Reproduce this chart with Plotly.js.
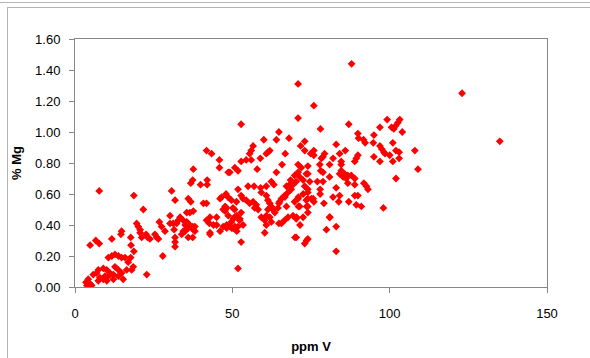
<!DOCTYPE html>
<html>
<head>
<meta charset="utf-8">
<script src="https://cdn.plot.ly/plotly-3.0.1.min.js"></script>
<style>
html,body{margin:0;padding:0;background:#fff;}
#wrap{position:relative;width:590px;height:358px;overflow:hidden;}
#chart{position:absolute;left:0;top:0;width:590px;height:358px;}
.frame{position:absolute;pointer-events:none;}
</style>
</head>
<body>
<div id="wrap">
<div id="chart"></div>
<div class="frame" style="left:0;top:0;width:592px;height:2px;border-bottom:1px solid #b4b4b4;"></div>
<div class="frame" style="left:7px;top:7px;width:600px;height:400px;border-top:1px solid #b4b4b4;border-left:1px solid #b4b4b4;"></div>
</div>
<script>
// ppm V (x) and % Mg (y)
const ppmV = [
87.9,70.9,75.9,70.9,52.8,87.0,99.2,123,135,
103.2,102.6,101.9,101.3,104,101,102,103,100,98.5,103,101,108,109,102,
78,96.9,100.6,89.9,90.1,91.7,92.2,95,94.8,96.9,97.5,98.2,95,96.9,89.9,89.4,88.9,
83,85.9,84.1,82,79.3,78.8,78.3,75.9,75.9,84.6,80.9,84.6,84.6,84.1,85.7,86.7,87.8,85.2,86.2,
77.8,78.1,78.8,74,74,74.6,77,78.8,80.9,83,86.7,88.9,88.9,91.8,92.6,93.1,77.9,77.9,
74,74,75.1,75.9,82,84.1,83.8,79.1,87,88.9,89.9,89.4,91,98,74,74,80.9,79.9,83,74,83,
64.8,60,64,68,73,71.7,73,74.9,56.6,56,55.5,61.9,61.3,60.8,58.9,66.8,52.8,54.4,56,
49.2,50.8,51.8,57.9,65.8,64,70.9,71.9,73.5,70.9,69.8,71.4,72.5,68.5,68.2,
55,56.9,59,60.8,62.4,63.2,59.2,51.8,52.8,53.4,49.7,51.3,50.2,54.4,55.5,56.6,57.6,57.1,58.2,
60.8,61.3,61.9,62.4,62.9,61.3,60.8,61.9,63.5,64.5,65,65.6,66.6,67.7,68.7,69.3,70.3,73,74,
73.5,70.9,69.8,71.4,72.5,70.3,69.3,67.7,66.6,65.6,62.4,60.8,60.3,59.2,
48.6,50.7,52.8,50.7,52.3,49.7,51.8,50.2,53.4,60.3,70.3,73,52.8,51.8,
67.2,72.5,75.7,71,66.7,64.8,67.2,71,73.6,70.4,64.8,71.5,69.9,73.6,81,
41.8,43.4,45.9,45.9,48.7,37.6,37.4,36.8,39.9,42,42,30.7,31.8,36,36.8,40.8,41.8,46.6,48,46.1,
48.2,47.7,48.7,37.6,36.5,35.5,34.4,35.5,36,32.8,32.3,30.2,31.2,26.8,27.5,28.6,31.5,31.8,31.8,31.8,
33.9,35,37.4,37.6,36,37.4,41.8,42.9,42.7,45,48.2,49.3,42.9,23.8,25.4,26.5,27.9,
30.2,33.4,35,34.4,36,38.1,38.1,42.9,44,45,47.1,47.7,49.8,50.8,51.4,47.1,46.1,50.3,51.4,52.4,48.2,
7.7,18.7,21.7,4.8,6.6,7.7,11.7,14.8,14.6,17.7,17.8,18.7,19.6,20.1,20.7,20.7,21.2,23.1,26,22.8,
10.6,11.7,12.7,13.8,14.8,15.9,17.7,16.9,12.7,13.8,10.1,9,7.4,6.9,5.8,7.9,9.5,10.6,12.2,13.8,14.8,
16.4,18,18.5,15.3,12.2,10.1,7.4,4.2,3.5,4.8,5.3,9,11.1,22.6,3.8
];
const pctMg = [
1.44,1.31,1.17,1.09,1.05,1.05,1.08,1.25,0.94,
1.08,1.06,1.04,1.02,1.00,0.93,0.88,0.87,0.85,0.86,0.83,0.81,0.88,0.76,0.70,
1.02,1.03,1.03,0.99,0.96,0.95,0.93,0.98,0.93,0.91,0.89,0.87,0.84,0.81,0.85,0.83,0.81,
0.92,0.88,0.86,0.83,0.86,0.84,0.83,0.88,0.85,0.81,0.79,0.79,0.75,0.73,0.73,0.72,0.72,0.71,0.70,
0.79,0.75,0.74,0.78,0.73,0.68,0.68,0.68,0.71,0.64,0.67,0.70,0.66,0.67,0.65,0.63,0.63,0.60,
0.61,0.57,0.57,0.55,0.58,0.59,0.55,0.54,0.55,0.59,0.59,0.53,0.52,0.51,0.52,0.48,0.45,0.37,0.39,0.31,0.23,
1.00,0.95,0.95,0.96,0.94,0.91,0.88,0.86,0.91,0.88,0.86,0.88,0.87,0.86,0.83,0.86,0.81,0.82,0.82,
0.74,0.77,0.75,0.76,0.79,0.74,0.79,0.77,0.73,0.74,0.72,0.71,0.69,0.69,0.66,
0.65,0.65,0.64,0.65,0.68,0.66,0.61,0.63,0.59,0.57,0.56,0.55,0.51,0.56,0.54,0.55,0.53,0.51,0.50,
0.59,0.56,0.54,0.52,0.50,0.50,0.46,0.45,0.48,0.51,0.55,0.57,0.59,0.61,0.63,0.66,0.68,0.65,0.63,
0.56,0.57,0.55,0.52,0.45,0.44,0.46,0.45,0.43,0.41,0.42,0.40,0.43,0.45,
0.58,0.50,0.48,0.45,0.43,0.42,0.39,0.38,0.40,0.35,0.32,0.28,0.29,0.12,
0.65,0.60,0.57,0.58,0.58,0.54,0.52,0.52,0.52,0.45,0.41,0.40,0.32,0.30,0.45,
0.88,0.86,0.82,0.77,0.74,0.76,0.69,0.67,0.66,0.69,0.66,0.62,0.56,0.57,0.55,0.54,0.54,0.58,0.60,0.57,
0.51,0.49,0.46,0.49,0.48,0.48,0.43,0.42,0.41,0.43,0.41,0.41,0.41,0.42,0.39,0.36,0.37,0.32,0.29,0.26,
0.34,0.36,0.39,0.37,0.32,0.32,0.43,0.45,0.41,0.40,0.38,0.39,0.34,0.31,0.34,0.31,0.20,
0.46,0.45,0.40,0.36,0.38,0.39,0.36,0.35,0.40,0.45,0.50,0.52,0.38,0.39,0.36,0.39,0.36,0.44,0.46,0.44,0.40,
0.62,0.59,0.50,0.27,0.30,0.28,0.31,0.36,0.34,0.32,0.27,0.23,0.41,0.39,0.37,0.35,0.32,0.32,0.32,0.08,
0.19,0.20,0.21,0.20,0.19,0.19,0.19,0.16,0.13,0.11,0.11,0.12,0.11,0.09,0.08,0.06,0.07,0.07,0.08,0.07,0.09,
0.11,0.11,0.13,0.05,0.05,0.04,0.04,0.05,0.03,0.02,0.01,0.05,0.09,0.34,0.01
];
const xTicks = [0, 50, 100, 150];
const yTicks = [0, 0.2, 0.4, 0.6, 0.8, 1.0, 1.2, 1.4, 1.6];

const font = {family: 'Liberation Sans, Arial, sans-serif', size: 13, color: '#000'};
const axisCommon = {
  showgrid: false, zeroline: false, showline: true, linecolor: '#868686', linewidth: 1,
  mirror: true, ticks: 'outside', ticklen: 5, tickcolor: '#868686', tickwidth: 1,
  tickfont: font, fixedrange: true
};
Plotly.newPlot('chart', [{
  type: 'scatter', mode: 'markers', x: ppmV, y: pctMg,
  marker: {symbol: 'diamond', size: 6, color: '#ff0000', line: {width: 0}},
  hoverinfo: 'skip'
}], {
  width: 590, height: 358,
  margin: {l: 75, r: 43, t: 39, b: 71},
  paper_bgcolor: '#fff', plot_bgcolor: '#fff',
  showlegend: false,
  xaxis: Object.assign({}, axisCommon, {
    range: [0, 150], tickvals: xTicks, ticktext: xTicks.map(String),
    ticklabelstandoff: 9,
    title: {text: '<b>ppm V</b>', font: {family: font.family, size: 13, color: '#000'}, standoff: 22}
  }),
  yaxis: Object.assign({}, axisCommon, {
    range: [0, 1.6], tickvals: yTicks, ticktext: yTicks.map(v => v.toFixed(2)),
    ticklabelstandoff: 6,
    title: {text: '<b>% Mg</b>', font: {family: font.family, size: 13, color: '#000'}, standoff: 10}
  })
}, {staticPlot: true});
</script>
</body>
</html>
